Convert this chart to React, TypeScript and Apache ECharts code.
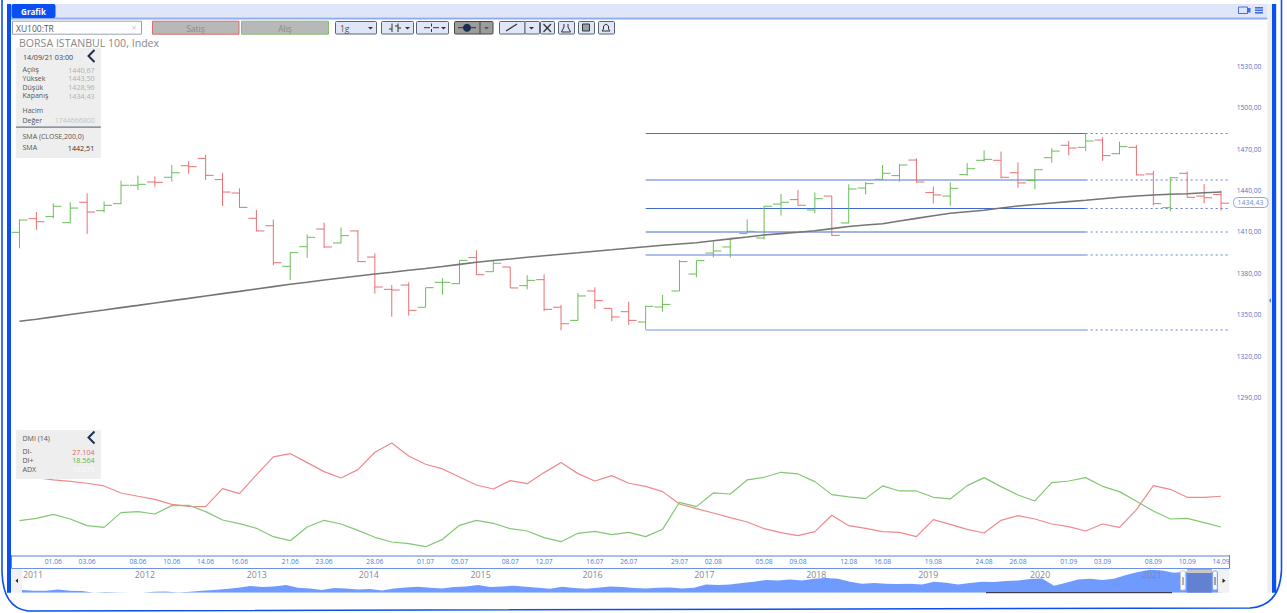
import React, { useEffect, useRef } from "react";
import * as echarts from "echarts";

const dates = ["28.05","31.05","01.06","02.06","03.06","04.06","07.06","08.06","09.06","10.06","11.06","14.06","15.06","16.06","17.06","18.06","21.06","22.06","23.06","24.06","25.06","28.06","29.06","30.06","01.07","02.07","05.07","06.07","07.07","08.07","09.07","12.07","13.07","14.07","16.07","19.07","26.07","27.07","28.07","29.07","30.07","02.08","03.08","04.08","05.08","06.08","09.08","10.08","11.08","12.08","13.08","16.08","17.08","18.08","19.08","20.08","23.08","24.08","25.08","26.08","27.08","31.08","01.09","02.09","03.09","06.09","07.09","08.09","09.09","10.09","13.09","14.09"];
const shownDates = ["01.06","03.06","08.06","10.06","14.06","16.06","21.06","23.06","28.06","01.07","05.07","08.07","12.07","16.07","26.07","29.07","02.08","05.08","09.08","12.08","16.08","19.08","24.08","26.08","01.09","03.09","08.09","10.09","14.09"];

const opens = [1413.3,1423.2,1424.7,1420.3,1435.1,1429.0,1434.1,1447.4,1449.8,1453.2,1461.6,1466.9,1451.5,1441.8,1423.5,1418.1,1388.7,1402.9,1415.7,1405.6,1414.3,1395.4,1372.0,1375.1,1359.0,1377.1,1376.1,1395.0,1384.8,1388.2,1374.7,1379.0,1359.0,1349.5,1370.8,1358.2,1355.8,1348.3,1359.2,1370.8,1383.1,1398.3,1402.7,1412.4,1409.2,1433.8,1437.0,1429.5,1439.6,1420.1,1445.4,1451.7,1454.4,1465.7,1442.1,1439.6,1455.1,1465.5,1465.5,1456.5,1451.0,1467.4,1476.4,1474.9,1480.2,1470.3,1474.9,1455.6,1431.2,1456.1,1439.6,1440.67];
const highs = [1422.7,1428.0,1434.3,1435.1,1441.6,1435.5,1450.8,1454.4,1453.9,1462.1,1464.8,1469.4,1456.5,1445.2,1429.5,1422.5,1398.8,1411.9,1420.3,1416.9,1414.8,1398.1,1375.1,1377.1,1373.2,1380.0,1393.0,1400.3,1392.8,1388.2,1382.2,1382.9,1360.7,1369.4,1373.5,1358.2,1363.1,1360.2,1367.9,1393.3,1392.8,1406.6,1409.0,1422.7,1432.4,1441.1,1444.0,1442.3,1439.6,1448.1,1449.8,1462.1,1462.6,1466.9,1446.4,1449.5,1463.6,1472.7,1471.8,1464.0,1459.0,1474.2,1479.5,1485.1,1482.2,1479.0,1476.6,1457.8,1453.2,1457.3,1448.3,1443.5];
const lows = [1401.7,1415.0,1423.5,1419.8,1412.1,1427.8,1433.8,1444.0,1446.4,1450.0,1455.8,1451.2,1432.4,1431.2,1414.0,1389.4,1378.8,1394.7,1402.0,1405.3,1391.8,1368.9,1352.2,1352.9,1359.0,1368.1,1376.1,1382.4,1384.8,1373.0,1372.0,1356.3,1342.3,1349.5,1357.8,1348.8,1346.2,1343.0,1355.8,1370.8,1380.7,1395.2,1395.0,1412.6,1408.2,1425.4,1432.6,1427.1,1410.7,1419.8,1440.8,1451.5,1450.0,1449.3,1434.3,1432.6,1454.4,1464.5,1452.4,1445.7,1444.5,1463.8,1469.1,1472.2,1465.2,1469.8,1454.6,1432.9,1428.5,1438.4,1434.3,1428.96];
const closes = [1422.2,1421.0,1432.2,1430.9,1428.0,1432.9,1447.4,1448.1,1449.5,1456.5,1460.9,1454.6,1442.5,1431.4,1414.3,1391.3,1398.6,1409.7,1402.7,1410.9,1392.1,1373.7,1371.5,1356.8,1373.2,1377.1,1393.0,1382.6,1390.9,1373.0,1378.5,1357.5,1347.1,1367.2,1363.8,1352.0,1349.5,1359.7,1361.1,1392.1,1392.8,1399.8,1409.0,1414.0,1432.2,1435.1,1432.9,1437.7,1411.1,1444.7,1448.6,1456.1,1462.1,1449.8,1440.4,1445.2,1459.4,1466.2,1453.2,1449.1,1458.7,1472.2,1474.4,1479.5,1468.9,1475.4,1454.9,1434.1,1452.9,1438.7,1438.4,1434.43];
const sma = [1348.84,1350.36,1352.03,1353.77,1355.44,1357.03,1358.77,1360.37,1362.1,1363.84,1365.44,1367.18,1368.92,1370.51,1372.25,1373.99,1375.66,1377.18,1378.77,1380.22,1381.67,1383.12,1384.42,1385.87,1387.1,1388.55,1390.08,1391.6,1392.9,1393.99,1395.22,1396.38,1397.47,1398.48,1399.57,1400.66,1401.81,1402.9,1403.92,1404.86,1405.8,1407.18,1408.55,1409.93,1411.38,1412.39,1413.41,1414.5,1416.02,1417.54,1418.63,1419.57,1421.53,1423.41,1425.29,1427.1,1428.19,1429.28,1430.95,1432.39,1433.48,1434.57,1435.58,1436.53,1437.61,1438.7,1439.64,1440.37,1440.87,1441.31,1441.96,1442.51];
const diMinus = [33.0,32.3,31.63,31.26,30.71,29.97,28.02,27.1,26.26,24.87,24.32,24.23,29.23,27.84,33.02,38.02,38.95,36.45,33.95,32.19,34.5,39.32,41.91,38.3,35.98,34.69,32.47,30.24,29.13,31.45,30.61,33.67,36.45,33.39,31.35,32.84,30.71,29.87,28.39,24.97,23.67,22.47,21.17,19.97,18.11,17.0,16.17,17.28,21.82,18.95,18.21,17.28,17.1,15.89,20.61,19.32,17.93,16.91,20.43,21.73,20.8,19.41,18.67,17.47,19.41,18.48,23.39,30.06,29.04,26.82,26.82,27.104];
const diPlus = [20.34,20.98,22.09,20.8,18.95,18.48,22.56,22.84,22.19,24.5,24.6,22.84,20.52,19.5,18.21,15.89,14.78,18.58,20.43,19.41,17.65,15.71,14.41,13.95,13.11,15.15,19.04,20.43,19.6,18.11,17.47,15.61,14.5,16.82,17.37,16.45,17.1,15.89,17.93,25.43,24.23,28.02,27.74,31.63,32.37,33.76,33.3,31.17,27.56,26.91,26.45,29.97,28.58,28.58,26.82,26.36,30.06,32.28,29.78,27.47,25.8,30.89,31.35,32.28,29.87,28.39,25.71,23.0,20.8,20.98,19.78,18.564];
const fibLevels = [1484.93,1451.23,1430.58,1413.55,1396.89,1342.54];
const fibStart = 37;
const fibEnd = 63;
const priceTicks = [1290,1320,1350,1380,1410,1440,1470,1500,1530];
const yearLabels = [2011,2012,2013,2014,2015,2016,2017,2018,2019,2020,2021];
const navValues = [588,560,560,612,560,548,480,508,492,480,480,520,532,492,520,560,588,628,680,748,708,732,788,680,652,588,668,652,612,628,572,652,692,720,680,652,708,732,788,708,732,760,720,680,640,720,668,640,680,732,708,668,652,680,692,652,680,812,788,812,868,920,988,972,1012,972,1040,1068,1040,920,840,868,840,828,840,812,920,880,812,868,920,908,948,972,1028,1052,760,880,1012,1040,988,1040,1188,1308,1400,1372,1280,1320,1320,1320,1252];

const BLUE = "#0a4ff0";
const RED = "#e8686a";
const GREEN = "#63b94f";
const FONT = "'Open Sans', sans-serif";

const FrameD = "M2 0 L2 572 Q3 608 28 611 L1250 608 Q1280 606 1281.5 570 L1281.5 0";
echarts.graphic.registerShape("frameLine", echarts.graphic.extendPath(FrameD, {}) as any);

const text = (t: string, x: number, y: number, size: number, fill: string, align = "left", weight: any = "normal") => ({
  type: "text", z: 101, silent: true,
  style: { text: t, x, y, fill, fontSize: size, fontFamily: FONT, fontWeight: weight, align, verticalAlign: "middle" },
});
const rect = (x: number, y: number, w: number, h: number, fill: string, stroke?: string, lw = 1, r = 0, z = 100) => ({
  type: "rect", z, silent: true,
  shape: { x, y, width: w, height: h, r },
  style: { fill, stroke: stroke || "none", lineWidth: lw },
});
const ln = (x1: number, y1: number, x2: number, y2: number, stroke: string, lw = 1) => ({
  type: "line", z: 102, silent: true, shape: { x1, y1, x2, y2 }, style: { stroke, lineWidth: lw },
});
const tri = (pts: number[][], fill: string) => ({
  type: "polygon", z: 102, silent: true, shape: { points: pts }, style: { fill },
});
const chevron = (x: number, y: number, h: number) => ({
  type: "polyline", z: 102, silent: true,
  shape: { points: [[x + h * 0.5, y], [x, y + h / 2], [x + h * 0.5, y + h]] },
  style: { stroke: "#1c2f52", lineWidth: 2, fill: "none" },
});
const btn = (x: number, w: number, fill = "#ffffff") => rect(x + 0.5, 21.5, w, 12.5, fill, "#5a6478", 1, 1);

const chrome: any[] = [
  { type: "frameLine", z: 100, silent: true, style: { stroke: BLUE, fill: "none", lineWidth: 1.6 } },
  rect(7, 4, 4, 588.7, BLUE),
  rect(1267.3, 4, 4.7, 588.7, "#eeeeee", undefined, 0, 0, 99),
  rect(1272, 4, 4.2, 588.7, BLUE),
  rect(11, 4, 1256.3, 13.5, "#e0e6f7"),
  rect(11, 17.5, 1256.3, 2, "#8fadf2"),
  rect(11.5, 4, 44, 14, BLUE, undefined, 0, 2),
  text("Grafik", 33.5, 11, 8, "#ffffff", "center", "bold"),
  rect(1238.5, 7, 9, 6.5, "#e0e6f7", "#3f6fe0", 1),
  rect(1248, 8, 2.5, 4.5, "#3f6fe0"),
  rect(1255, 7, 8, 1.6, "#3f6fe0"), rect(1255, 9.5, 8, 1.6, "#3f6fe0"), rect(1255, 12, 8, 1.6, "#3f6fe0"),
  // toolbar
  rect(12.5, 21.2, 129, 13, "#ffffff", "#9aa0aa", 1),
  text("XU100:TR", 16, 28, 8.5, "#555555"),
  text("×", 134, 27.5, 9, "#c8c8c8", "center"),
  rect(152.5, 21.2, 86.5, 13, "#b8b8b8", "#e06a6a", 1),
  text("Satış", 195.5, 28, 8.5, "#8a8a8a", "center"),
  rect(241.5, 21.2, 87, 13, "#b8b8b8", "#84bf70", 1),
  text("Alış", 285, 28, 8.5, "#8a8a8a", "center"),
  rect(335.5, 21.5, 41, 12.5, "#e0e6f7", "#5a6478", 1, 1),
  text("1g", 340, 28, 8.5, "#555555"),
  tri([[368, 27], [373, 27], [370.5, 29.5]], "#333333"),
  btn(381, 32, "#e0e6f7"),
  ln(392, 23.5, 392, 32, "#333", 1), ln(398, 23.5, 398, 32, "#333", 1), ln(389, 29, 392, 29, "#333", 1), ln(395, 26, 398, 26, "#333", 1), ln(398, 28, 401, 28, "#333", 1),
  tri([[405, 27], [410, 27], [407.5, 29.5]], "#333333"),
  btn(416, 32, "#e0e6f7"),
  ln(424, 27.7, 430, 27.7, "#333", 1), ln(433, 27.7, 439, 27.7, "#333", 1), ln(431.5, 23.5, 431.5, 26.5, "#333", 1), ln(431.5, 29, 431.5, 32, "#333", 1),
  tri([[441, 27], [446, 27], [443.5, 29.5]], "#333333"),
  rect(454.5, 21.5, 38.5, 12.5, "#9c9c9c", "#444", 1, 1),
  ln(480, 21.5, 480, 34, "#444", 1),
  ln(458, 27.7, 476, 27.7, "#333", 1),
  { type: "circle", z: 102, silent: true, shape: { cx: 467, cy: 27.7, r: 4 }, style: { fill: "#1c2f52" } },
  tri([[484, 27], [489, 27], [486.5, 29.5]], "#555555"),
  btn(499, 25.5, "#e0e6f7"),
  ln(506, 31, 517, 24, "#333", 1.2),
  btn(524.5, 14.5, "#e0e6f7"),
  tri([[529, 27], [534, 27], [531.5, 29.5]], "#333333"),
  btn(540, 14, "#e0e6f7"),
  ln(543.5, 24, 551, 32, "#333", 1.2), ln(551, 24, 543.5, 32, "#333", 1.2),
  btn(558, 16, "#e0e6f7"),
  { type: "polyline", z: 102, silent: true, shape: { points: [[564, 24], [564, 27], [561.5, 32], [570.5, 32], [568, 27], [568, 24]] }, style: { stroke: "#333", fill: "none", lineWidth: 1 } },
  btn(578, 16, "#e0e6f7"),
  rect(582.5, 24, 7, 7, "#9aa0aa", "#333", 1),
  btn(598, 16, "#e0e6f7"),
  { type: "polyline", z: 102, silent: true, shape: { points: [[602, 31], [603.5, 29], [603.5, 26], [606, 24], [608.5, 26], [608.5, 29], [610, 31], [602, 31]] }, style: { stroke: "#333", fill: "none", lineWidth: 1 } },
  text("BORSA ISTANBUL 100, Index", 19, 43.3, 10.6, "#888888"),
  // info panel
  rect(16, 48, 84.8, 110, "#eeeeee", undefined, 0, 1),
  text("14/09/21 03:00", 23, 56.5, 7.2, "#444444"),
  chevron(88.5, 50, 12),
  text("Açılış", 22.5, 69.7, 7, "#555555"), text("1440,67", 94.7, 69.7, 7.2, "#b0b0b0", "right"),
  text("Yüksek", 22.5, 78.3, 7, "#555555"), text("1443,50", 94.7, 78.3, 7.2, "#b0b0b0", "right"),
  text("Düşük", 22.5, 87, 7, "#555555"), text("1428,96", 94.7, 87, 7.2, "#b0b0b0", "right"),
  text("Kapanış", 22.5, 95.5, 7, "#555555"), text("1434,43", 94.7, 95.5, 7.2, "#b0b0b0", "right"),
  text("Hacim", 22.5, 110, 7, "#555555"),
  text("Değer", 22.5, 120, 7, "#555555"), text("1744666800", 94.7, 120, 7, "#c4c4c4", "right"),
  rect(16, 126.5, 84.8, 1.3, "#6e7688", undefined, 0, 0, 101),
  text("SMA (CLOSE,200,0)", 22.5, 136.3, 7, "#555555"),
  text("SMA", 22.5, 147.5, 7, "#555555"), text("1442,51", 94.3, 147.5, 7.2, "#333333", "right"),
  // DMI panel
  rect(16, 430, 84.8, 49, "#eeeeee", undefined, 0, 1),
  text("DMI (14)", 22.5, 438.3, 7, "#555555"),
  chevron(88.5, 431.5, 12),
  text("DI-", 22.5, 451.7, 7, "#555555"), text("27.104", 94.7, 451.7, 7.2, "#e8686a", "right"),
  text("DI+", 22.5, 460.3, 7, "#555555"), text("18.564", 94.7, 460.3, 7.2, "#5ab848", "right"),
  text("ADX", 22.5, 469, 7, "#555555"), text("19.275", 94.7, 469, 7.2, "#fafafa", "right"),
  // date strip
  rect(11.5, 555, 1218, 2, "#a9bff0", undefined, 0, 0, 98),
  ln(11.5, 555, 11.5, 568.5, "#5f84e0", 1),
  ln(1229.5, 555, 1229.5, 568.5, "#5f84e0", 1),
  ln(11.5, 568.5, 1229.5, 568.5, "#6f90e4", 1),
  // price tag
  rect(1233.5, 197.5, 34.5, 10, "#ffffff", "#8fa8e6", 1, 4),
  text("1434,43", 1250.5, 202.5, 7, "#7a8fc0", "center"),
  tri([[1271, 298], [1271, 303], [1269, 300.5]], "#5a7fd8"),
  // navigator chrome
  rect(11.5, 569, 10.5, 23.7, "#f2f2f2"),
  tri([[15.5, 580.7], [18, 578.5], [18, 583]], "#222222"),
  rect(1218, 569, 11.3, 23.7, "#f2f2f2"),
  tri([[1222.5, 578.5], [1222.5, 583], [1225.5, 580.7]], "#222222"),
  rect(1187, 569, 24.7, 23.7, "rgba(96,126,204,0.9)"),
  rect(1187, 569.5, 24.7, 3.5, "#c8c8c8", undefined, 0, 0, 101),
  rect(1180.5, 571, 4.8, 19, "#ffffff", "#bfc6d8", 1, 1),
  ln(1183, 577, 1183, 585, "#666", 1),
  rect(1212.7, 571, 4.6, 19, "#ffffff", "#7aa0f0", 1, 1),
  ln(1215, 577, 1215, 585, "#444", 1),
  ln(986, 592.7, 1172, 592.7, "#222", 1),
];

const ohlcRows = dates.map((_, i) => [i, opens[i], highs[i], lows[i], closes[i]]);
const fibRows = fibLevels.map((lv, i) => [fibStart, fibEnd, lv, i]);
const fibStyles = [
  { stroke: "#4a70c8", lineWidth: 1 },
  { stroke: "#a8bbea", lineWidth: 2 },
  { stroke: "#3d68cc", lineWidth: 1 },
  { stroke: "#a0b4e6", lineWidth: 1.8 },
  { stroke: "#aebfec", lineWidth: 1.8 },
  { stroke: "#9fb4ea", lineWidth: 1.6 },
];
const navPoints = navValues.map((v, i) => [2011 + (i * 12 - 11) / 111.9, v]);

const renderOhlc = (params: any, api: any) => {
  const i = api.value(0);
  const o = api.coord([i, api.value(1)]);
  const h = api.coord([i, api.value(2)]);
  const l = api.coord([i, api.value(3)]);
  const c = api.coord([i, api.value(4)]);
  const half = api.size([1, 0])[0] / 2 - 0.5;
  const isUp = api.value(4) >= api.value(1);
  const style = { stroke: isUp ? GREEN : RED, lineWidth: 1, opacity: 0.95 };
  return {
    type: "group",
    children: [
      { type: "line", shape: { x1: h[0], y1: h[1], x2: l[0], y2: l[1] }, style },
      { type: "line", shape: { x1: o[0] - half, y1: o[1], x2: o[0], y2: o[1] }, style },
      { type: "line", shape: { x1: c[0], y1: c[1], x2: c[0] + half, y2: c[1] }, style },
    ],
  };
};

const renderFib = (params: any, api: any) => {
  const a = api.coord([api.value(0), api.value(2)]);
  const b = api.coord([api.value(1), api.value(2)]);
  const right = params.coordSys.x + params.coordSys.width;
  const st = fibStyles[api.value(3)];
  return {
    type: "group",
    children: [
      { type: "line", shape: { x1: a[0], y1: a[1], x2: b[0], y2: b[1] }, style: st },
      { type: "line", shape: { x1: b[0], y1: b[1], x2: right, y2: b[1] }, style: { stroke: "#5f80d4", lineWidth: 1, lineDash: [2, 3] } },
    ],
  };
};

export default function App() {
  const ref = useRef<HTMLDivElement>(null);
  useEffect(() => {
    document.body.style.margin = "0";
    document.body.style.overflow = "hidden";
    const chart = echarts.init(ref.current!, undefined, { renderer: "svg" });
    chart.setOption({
      animation: false,
      backgroundColor: "#ffffff",
      grid: [
        { left: 11, width: 1218.5, top: 29.9, height: 414 },
        { left: 11, width: 1218.5, top: 430, height: 125 },
        { left: 22, width: 1200, top: 568, height: 24.7 },
      ],
      xAxis: [
        { type: "category", gridIndex: 0, data: dates, show: false },
        {
          type: "category", gridIndex: 1, data: dates,
          axisLine: { show: false }, axisTick: { show: false },
          axisLabel: {
            interval: (_: number, v: string) => shownDates.includes(v),
            fontSize: 6.7, color: "#4f78d8", margin: 3, fontFamily: FONT, hideOverlap: false,
          },
        },
        {
          type: "value", gridIndex: 2, position: "top", z: 5,
          min: 2011 - 11 / 111.9, max: 2011 + 1189 / 111.9,
          axisLine: { show: false }, axisTick: { show: false }, splitLine: { show: false },
          axisLabel: {
            inside: true, margin: 2, customValues: yearLabels, formatter: (v: number) => String(v),
            fontSize: 8.8, color: "#888888", fontFamily: FONT,
            showMinLabel: true, showMaxLabel: true,
          },
        },
      ],
      yAxis: [
        {
          type: "value", gridIndex: 0, position: "right", min: 1260, max: 1560, interval: 30,
          splitLine: { show: false }, axisLine: { show: false }, axisTick: { show: false },
          axisLabel: {
            margin: 7.2, fontSize: 6.7, color: "#4f72c8", fontFamily: FONT, verticalAlign: "bottom", lineHeight: 10,
            formatter: (v: number) => (priceTicks.includes(v) ? v.toFixed(2).replace(".", ",") : ""),
          },
        },
        { type: "value", gridIndex: 1, min: 10.8, max: 45.5, show: false },
        { type: "value", gridIndex: 2, min: 480, max: 1468, show: false },
      ],
      graphic: { elements: chrome },
      series: [
        {
          type: "custom", xAxisIndex: 0, yAxisIndex: 0, data: fibRows, renderItem: renderFib, silent: true, z: 2,
          encode: { x: [0, 1], y: 2 },
        },
        {
          type: "custom", xAxisIndex: 0, yAxisIndex: 0, data: ohlcRows, renderItem: renderOhlc, silent: true, z: 3,
          encode: { x: 0, y: [1, 2, 3, 4] },
        },
        {
          type: "line", name: "SMA", xAxisIndex: 0, yAxisIndex: 0, data: sma, showSymbol: false, silent: true, z: 4,
          lineStyle: { color: "#757575", width: 1.6 },
        },
        {
          type: "line", name: "DI-", xAxisIndex: 1, yAxisIndex: 1, data: diMinus, showSymbol: false, silent: true,
          lineStyle: { color: "#ee8a8c", width: 1.2 },
        },
        {
          type: "line", name: "DI+", xAxisIndex: 1, yAxisIndex: 1, data: diPlus, showSymbol: false, silent: true,
          lineStyle: { color: "#82c872", width: 1.2 },
        },
        {
          type: "line", name: "Hacim", xAxisIndex: 2, yAxisIndex: 2, data: navPoints, showSymbol: false, silent: true,
          lineStyle: { width: 0 }, areaStyle: { color: "#6f9bff", opacity: 1 },
        },
      ],
    });
    return () => chart.dispose();
  }, []);
  return <div ref={ref} style={{ width: 1287, height: 613 }} />;
}
